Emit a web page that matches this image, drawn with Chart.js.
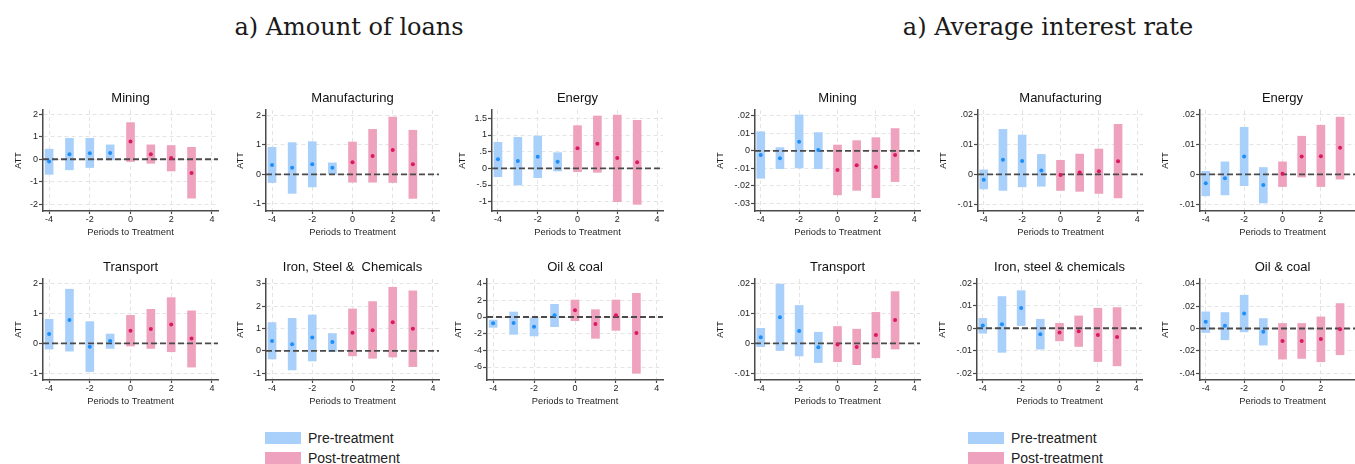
<!DOCTYPE html>
<html>
<head>
<meta charset="utf-8">
<title>Event study by sector</title>
<script src="https://cdn.jsdelivr.net/npm/chart.js@4.4.1/dist/chart.umd.min.js"></script>
<style>
  body { margin: 0; background: #fff; width: 1355px; height: 464px; overflow: hidden; position: relative;
         font-family: "Liberation Sans", Arial, sans-serif; }
  .panel { position: absolute; }
  .main-title { position: absolute; top: 13px; font-family: "DejaVu Serif", serif; font-size: 24px; color: #1a1a1a;
                transform: translateX(-50%); white-space: nowrap; }
  .legend { position: absolute; font-size: 14px; color: #222; }
  .legend .row { display: flex; align-items: center; height: 20px; }
  .legend .sw { width: 36px; height: 12px; margin-right: 7px; }
</style>
</head>
<body>
<div class="main-title" style="left:349px">a) Amount of loans</div>
<div class="main-title" style="left:1048px">a) Average interest rate</div>

<div class="legend" style="left:265px; top:428px">
  <div class="row"><span class="sw" style="background:#a9d0fa"></span>Pre-treatment</div>
  <div class="row"><span class="sw" style="background:#eea2bd"></span>Post-treatment</div>
</div>
<div class="legend" style="left:968px; top:428px">
  <div class="row"><span class="sw" style="background:#a9d0fa"></span>Pre-treatment</div>
  <div class="row"><span class="sw" style="background:#eea2bd"></span>Post-treatment</div>
</div>

<script>
// ─── Data ────────────────────────────────────────────────────────────────────

const periods = [-4, -3, -2, -1, 0, 1, 2, 3];
const xTicks = [-4, -2, 0, 2, 4];

const loanTitles = ['Mining', 'Manufacturing', 'Energy', 'Transport', 'Iron, Steel &  Chemicals', 'Oil & coal'];
const rateTitles = ['Mining', 'Manufacturing', 'Energy', 'Transport', 'Iron, steel & chemicals', 'Oil & coal'];

// a) Amount of loans: point estimate and confidence band
const loanMiningEst = [-0.10, 0.22, 0.27, 0.28, 0.79, 0.22, 0.06, -0.61];
const loanMiningLo  = [-0.67, -0.47, -0.37, -0.03, -0.10, -0.18, -0.52, -1.73];
const loanMiningHi  = [0.45, 0.93, 0.93, 0.64, 1.63, 0.64, 0.61, 0.53];

const loanManufEst = [0.32, 0.22, 0.34, 0.22, 0.41, 0.62, 0.83, 0.34];
const loanManufLo  = [-0.28, -0.65, -0.43, 0.01, -0.27, -0.27, -0.28, -0.82];
const loanManufHi  = [0.92, 1.08, 1.11, 0.39, 1.10, 1.53, 1.95, 1.50];

const loanEnergyEst = [0.27, 0.22, 0.35, 0.20, 0.60, 0.74, 0.31, 0.18];
const loanEnergyLo  = [-0.25, -0.50, -0.28, -0.08, -0.10, -0.12, -1.00, -1.08];
const loanEnergyHi  = [0.78, 0.93, 0.97, 0.47, 1.28, 1.57, 1.60, 1.44];

const loanTransportEst = [0.31, 0.78, -0.11, 0.08, 0.42, 0.48, 0.63, 0.16];
const loanTransportLo  = [-0.19, -0.26, -0.94, -0.17, -0.09, -0.17, -0.28, -0.79];
const loanTransportHi  = [0.80, 1.80, 0.72, 0.31, 0.93, 1.13, 1.52, 1.08];

const loanIronEst = [0.45, 0.30, 0.60, 0.40, 0.81, 0.93, 1.28, 0.99];
const loanIronLo  = [-0.36, -0.85, -0.45, -0.03, -0.22, -0.33, -0.27, -0.70];
const loanIronHi  = [1.27, 1.46, 1.61, 0.78, 1.88, 2.21, 2.85, 2.69];

const loanOilEst = [-0.76, -0.72, -1.16, 0.20, 0.80, -0.84, 0.20, -1.92];
const loanOilLo  = [-1.24, -2.08, -2.28, -1.16, -0.44, -2.56, -1.60, -6.76];
const loanOilHi  = [-0.36, 0.60, -0.16, 1.52, 2.04, 0.88, 2.04, 2.84];

// a) Average interest rate
const rateMiningEst = [-0.0023, -0.0042, 0.0053, 0.0006, -0.0109, -0.0082, -0.0091, -0.0023];
const rateMiningLo  = [-0.0156, -0.0101, -0.0097, -0.0101, -0.0251, -0.0225, -0.0267, -0.0175];
const rateMiningHi  = [0.0110, 0.0019, 0.0206, 0.0105, 0.0034, 0.0059, 0.0076, 0.0128];

const rateManufEst = [-0.0018, 0.0049, 0.0045, 0.0013, -0.0002, 0.0006, 0.0010, 0.0044];
const rateManufLo  = [-0.0049, -0.0054, -0.0042, -0.0040, -0.0054, -0.0057, -0.0064, -0.0079];
const rateManufHi  = [0.0015, 0.0151, 0.0132, 0.0067, 0.0047, 0.0068, 0.0085, 0.0168];

const rateEnergyEst = [-0.0030, -0.0013, 0.0060, -0.0036, 0.0002, 0.0060, 0.0061, 0.0089];
const rateEnergyLo  = [-0.0072, -0.0069, -0.0038, -0.0096, -0.0041, -0.0009, -0.0041, -0.0016];
const rateEnergyHi  = [0.0010, 0.0042, 0.0158, 0.0023, 0.0042, 0.0128, 0.0165, 0.0192];

const rateTransportEst = [0.0020, 0.0087, 0.0041, -0.0013, -0.0004, -0.0012, 0.0028, 0.0078];
const rateTransportLo  = [-0.0011, -0.0024, -0.0042, -0.0064, -0.0061, -0.0071, -0.0048, -0.0019];
const rateTransportHi  = [0.0050, 0.0197, 0.0126, 0.0037, 0.0056, 0.0047, 0.0103, 0.0172];

const rateIronEst = [0.0012, 0.0018, 0.0090, -0.0027, -0.0019, -0.0013, -0.0030, -0.0039];
const rateIronLo  = [-0.0022, -0.0107, 0.0012, -0.0093, -0.0056, -0.0081, -0.0148, -0.0167];
const rateIronHi  = [0.0044, 0.0141, 0.0167, 0.0040, 0.0022, 0.0055, 0.0089, 0.0092];

const rateOilEst = [0.0060, 0.0024, 0.0134, -0.0030, -0.0113, -0.0113, -0.0095, -0.0006];
const rateOilLo  = [-0.0036, -0.0101, -0.0030, -0.0149, -0.0274, -0.0268, -0.0298, -0.0235];
const rateOilHi  = [0.0149, 0.0143, 0.0298, 0.0089, 0.0045, 0.0045, 0.0104, 0.0223];

// y tick labels per panel
const loanMiningTicks    = [-2, -1, 0, 1, 2];
const loanManufTicks     = [-1, 0, 1, 2];
const loanEnergyTicks    = [-1, -0.5, 0, 0.5, 1, 1.5];
const loanTransportTicks = [-1, 0, 1, 2];
const loanIronTicks      = [-1, 0, 1, 2, 3];
const loanOilTicks       = [-6, -4, -2, 0, 2, 4];
const rateMiningTicks    = [-0.03, -0.02, -0.01, 0, 0.01, 0.02];
const rateManufTicks     = [-0.01, 0, 0.01, 0.02];
const rateEnergyTicks    = [-0.01, 0, 0.01, 0.02];
const rateTransportTicks = [-0.01, 0, 0.01, 0.02];
const rateIronTicks      = [-0.02, -0.01, 0, 0.01, 0.02];
const rateOilTicks       = [-0.04, -0.02, 0, 0.02, 0.04];

// ─── Layout / style ──────────────────────────────────────────────────────────

const X_MIN = -4.3, X_MAX = 4.3;
const PLOT_H = 101;
const TITLE_H = 20;
const X_AXIS_H = 27;
const RIGHT_PAD = 8;

const PRE_BAR = '#a9d0fa', POST_BAR = '#eea2bd';
const PRE_DOT = '#1f8ef5', POST_DOT = '#d81a60';
const AXIS = '#4a4a4a', GRID = '#e4e4e4', TEXT = '#1e1e1e';

Chart.defaults.font.family = '"Liberation Sans", Arial, sans-serif';
Chart.defaults.color = TEXT;

// plotLeft = y-axis line, plotBottom = x-axis line
const panels = [
  { title: loanTitles[0], est: loanMiningEst, lo: loanMiningLo, hi: loanMiningHi, ticks: loanMiningTicks,
    yMin: -2.30, yMax: 2.19, plotLeft: 43, plotW: 171, plotBottom: 211, axisW: 30 },
  { title: loanTitles[1], est: loanManufEst, lo: loanManufLo, hi: loanManufHi, ticks: loanManufTicks,
    yMin: -1.25, yMax: 2.19, plotLeft: 266, plotW: 169, plotBottom: 211, axisW: 31 },
  { title: loanTitles[2], est: loanEnergyEst, lo: loanEnergyLo, hi: loanEnergyHi, ticks: loanEnergyTicks,
    yMin: -1.28, yMax: 1.75, plotLeft: 492, plotW: 167, plotBottom: 211, axisW: 35 },
  { title: loanTitles[3], est: loanTransportEst, lo: loanTransportLo, hi: loanTransportHi, ticks: loanTransportTicks,
    yMin: -1.22, yMax: 2.14, plotLeft: 43, plotW: 171, plotBottom: 380, axisW: 30 },
  { title: loanTitles[4], est: loanIronEst, lo: loanIronLo, hi: loanIronHi, ticks: loanIronTicks,
    yMin: -1.30, yMax: 3.22, plotLeft: 266, plotW: 169, plotBottom: 380, axisW: 31 },
  { title: loanTitles[5], est: loanOilEst, lo: loanOilLo, hi: loanOilHi, ticks: loanOilTicks,
    yMin: -7.56, yMax: 4.56, plotLeft: 487, plotW: 172, plotBottom: 380, axisW: 34 },

  { title: rateTitles[0], est: rateMiningEst, lo: rateMiningLo, hi: rateMiningHi, ticks: rateMiningTicks,
    yMin: -0.0343, yMax: 0.0234, plotLeft: 755, plotW: 161, plotBottom: 211, axisW: 40 },
  { title: rateTitles[1], est: rateManufEst, lo: rateManufLo, hi: rateManufHi, ticks: rateManufTicks,
    yMin: -0.0123, yMax: 0.0216, plotLeft: 978, plotW: 161, plotBottom: 211, axisW: 40 },
  { title: rateTitles[2], est: rateEnergyEst, lo: rateEnergyLo, hi: rateEnergyHi, ticks: rateEnergyTicks,
    yMin: -0.0123, yMax: 0.0216, plotLeft: 1200, plotW: 161, plotBottom: 211, axisW: 40 },
  { title: rateTitles[3], est: rateTransportEst, lo: rateTransportLo, hi: rateTransportHi, ticks: rateTransportTicks,
    yMin: -0.0122, yMax: 0.0214, plotLeft: 755, plotW: 161, plotBottom: 380, axisW: 40 },
  { title: rateTitles[4], est: rateIronEst, lo: rateIronLo, hi: rateIronHi, ticks: rateIronTicks,
    yMin: -0.0230, yMax: 0.0219, plotLeft: 977, plotW: 161, plotBottom: 380, axisW: 40 },
  { title: rateTitles[5], est: rateOilEst, lo: rateOilLo, hi: rateOilHi, ticks: rateOilTicks,
    yMin: -0.0461, yMax: 0.0443, plotLeft: 1200, plotW: 161, plotBottom: 380, axisW: 40 },
];

// Stata-style labels: ".5", "-.01"
function stataLabel(v) {
  if (v === 0) return '0';
  return String(v).replace(/^(-?)0\./, '$1.');
}

function drawPanel(p) {
  const wrap = document.createElement('div');
  wrap.className = 'panel';
  wrap.style.left = (p.plotLeft - p.axisW) + 'px';
  wrap.style.top = (p.plotBottom - PLOT_H - TITLE_H) + 'px';
  wrap.style.width = (p.axisW + p.plotW + RIGHT_PAD) + 'px';
  wrap.style.height = (TITLE_H + PLOT_H + X_AXIS_H) + 'px';
  const canvas = document.createElement('canvas');
  wrap.appendChild(canvas);
  document.body.appendChild(wrap);

  const preBars = [], postBars = [], preDots = [], postDots = [];
  periods.forEach((t, i) => {
    (t < 0 ? preBars : postBars).push({ x: t, y: [p.lo[i], p.hi[i]] });
    (t < 0 ? preDots : postDots).push({ x: t, y: p.est[i] });
  });

  const barStyle = { type: 'bar', barThickness: 8, grouped: false, borderWidth: 0, borderSkipped: false, order: 3 };
  const dotStyle = { type: 'scatter', pointRadius: 2, pointBorderWidth: 0, order: 1 };

  new Chart(canvas, {
    type: 'bar',
    data: {
      datasets: [
        { ...barStyle, label: 'Pre-treatment', data: preBars, backgroundColor: PRE_BAR },
        { ...barStyle, label: 'Post-treatment', data: postBars, backgroundColor: POST_BAR },
        { type: 'line', data: [{ x: X_MIN, y: 0 }, { x: X_MAX, y: 0 }], borderColor: AXIS, borderWidth: 1.8,
          borderDash: [6, 3], pointRadius: 0, order: 2 },
        { ...dotStyle, data: preDots, backgroundColor: PRE_DOT },
        { ...dotStyle, data: postDots, backgroundColor: POST_DOT },
      ],
    },
    options: {
      responsive: true,
      maintainAspectRatio: false,
      animation: false,
      events: [],
      layout: { padding: 0 },
      plugins: {
        legend: { display: false },
        tooltip: { enabled: false },
        title: {
          display: true, text: p.title, fullSize: false, color: '#111',
          font: { size: 13, weight: 'normal', lineHeight: 1.2 }, padding: { top: 0.5, bottom: 3.9 },
        },
      },
      scales: {
        x: {
          type: 'linear', min: X_MIN, max: X_MAX, offset: false,
          afterBuildTicks: s => { s.ticks = xTicks.map(v => ({ value: v })); },
          afterFit: s => { s.height = X_AXIS_H; },
          ticks: { font: { size: 9 }, padding: 0, maxRotation: 0, autoSkip: false },
          grid: { color: GRID, offset: false, tickLength: 3, tickColor: AXIS, tickWidth: 1.2 },
          border: { color: AXIS, width: 1.5, dash: [4, 3] },
          title: { display: true, text: 'Periods to Treatment', font: { size: 9.3, lineHeight: 1.2 }, padding: 0 },
        },
        y: {
          type: 'linear', min: p.yMin, max: p.yMax,
          afterBuildTicks: s => { s.ticks = p.ticks.map(v => ({ value: v })); },
          afterFit: s => { s.width = p.axisW; },
          ticks: { font: { size: 9 }, padding: 1, autoSkip: false, callback: v => stataLabel(v) },
          grid: { color: GRID, tickLength: 4, tickColor: AXIS, tickWidth: 1.2 },
          border: { color: AXIS, width: 1.5, dash: [4, 3] },
          title: { display: true, text: 'ATT', font: { size: 9, lineHeight: 1.2 }, padding: 0 },
        },
      },
    },
  });
}

panels.forEach(drawPanel);
</script>
</body>
</html>
